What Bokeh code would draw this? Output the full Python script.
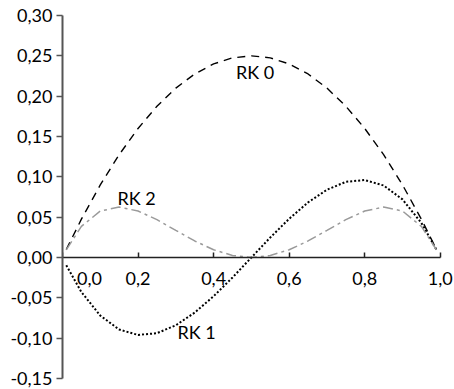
from bokeh.plotting import figure
from bokeh.models import FixedTicker, Label, Range1d
from bokeh.embed import file_html
from bokeh.resources import INLINE

# ---- data ----
x_vals = [0.01, 0.05, 0.10, 0.15, 0.20, 0.25, 0.30, 0.35, 0.40, 0.45, 0.50,
          0.55, 0.60, 0.65, 0.70, 0.75, 0.80, 0.85, 0.90, 0.95, 0.99]
rk0 = [0.0099, 0.0475, 0.0900, 0.1275, 0.1600, 0.1875, 0.2100, 0.2275, 0.2400, 0.2475, 0.2500,
       0.2475, 0.2400, 0.2275, 0.2100, 0.1875, 0.1600, 0.1275, 0.0900, 0.0475, 0.0099]
rk1 = [-0.0097, -0.0428, -0.0720, -0.0893, -0.0960, -0.0938, -0.0840, -0.0683, -0.0480, -0.0248, 0.0,
       0.0248, 0.0480, 0.0683, 0.0840, 0.0938, 0.0960, 0.0893, 0.0720, 0.0428, 0.0097]
rk2 = [0.0095, 0.0385, 0.0576, 0.0625, 0.0576, 0.0469, 0.0336, 0.0205, 0.0096, 0.0025, 0.0,
       0.0025, 0.0096, 0.0205, 0.0336, 0.0469, 0.0576, 0.0625, 0.0576, 0.0385, 0.0095]

x_ticks = [0.0, 0.2, 0.4, 0.6, 0.8, 1.0]
x_tick_labels = ["0,0", "0,2", "0,4", "0,6", "0,8", "1,0"]
y_ticks = [-0.15, -0.10, -0.05, 0.0, 0.05, 0.10, 0.15, 0.20, 0.25, 0.30]
y_tick_labels = ["-0,15", "-0,10", "-0,05", "0,00", "0,05", "0,10", "0,15", "0,20", "0,25", "0,30"]

series_names = ["RK 0", "RK 1", "RK 2"]
name_pos_x = [0.51, 0.355, 0.196]
name_pos_y = [0.2305, -0.0925, 0.074]

FONT = "Lato"
FS = "18px"

p = figure(width=453, height=388, output_backend="svg", toolbar_location=None,
           x_range=Range1d(0, 1.035), y_range=Range1d(-0.15, 0.30),
           min_border_left=62, min_border_right=0, min_border_top=15, min_border_bottom=10)
p.grid.visible = False
p.outline_line_color = None
p.background_fill_color = "white"

p.line(x_vals, rk0, line_color="black", line_width=1.4, line_dash="8 6")
p.line(x_vals, rk1, line_color="black", line_width=2, line_dash="2 2")
p.line(x_vals, rk2, line_color="#9a9a9a", line_width=1.5, line_dash="10 4 3 4")

# y axis
ya = p.yaxis[0]
ya.ticker = FixedTicker(ticks=y_ticks)
ya.major_label_overrides = {t: l for t, l in zip(y_ticks, y_tick_labels)}
ya.minor_tick_line_color = None
ya.major_tick_in = 0
ya.major_tick_out = 6
ya.major_label_standoff = 4
ya.axis_line_color = "#555555"
ya.axis_line_width = 2
ya.major_tick_line_color = "#555555"
ya.major_tick_line_width = 1.5
ya.major_label_text_font = FONT
ya.major_label_text_font_size = FS
ya.major_label_text_color = "black"

# x axis crossing at y = 0
xa = p.xaxis[0]
xa.fixed_location = 0
xa.bounds = (x_ticks[0], x_ticks[-1])
xa.ticker = FixedTicker(ticks=x_ticks)
overrides = {t: l for t, l in zip(x_ticks, x_tick_labels)}
overrides[x_ticks[0]] = ""
xa.major_label_overrides = overrides
xa.minor_tick_line_color = None
xa.major_tick_in = 5
xa.major_tick_out = 0
xa.major_label_standoff = 14
xa.axis_line_color = "#222222"
xa.axis_line_width = 1.5
xa.major_tick_line_color = "#222222"
xa.major_tick_line_width = 1.5
xa.major_label_text_font = FONT
xa.major_label_text_font_size = FS
xa.major_label_text_color = "black"

# shifted first x tick label
p.add_layout(Label(x=x_ticks[0], y=0, text=x_tick_labels[0], x_offset=27, y_offset=-14,
                   text_align="center", text_baseline="top",
                   text_font=FONT, text_font_size=FS, text_color="black"))

for name, lx, ly in zip(series_names, name_pos_x, name_pos_y):
    p.add_layout(Label(x=lx, y=ly, text=name, text_align="center", text_baseline="middle",
                       text_font=FONT, text_font_size=FS, text_color="black"))

open("out.html", "w").write(file_html(p, INLINE))
